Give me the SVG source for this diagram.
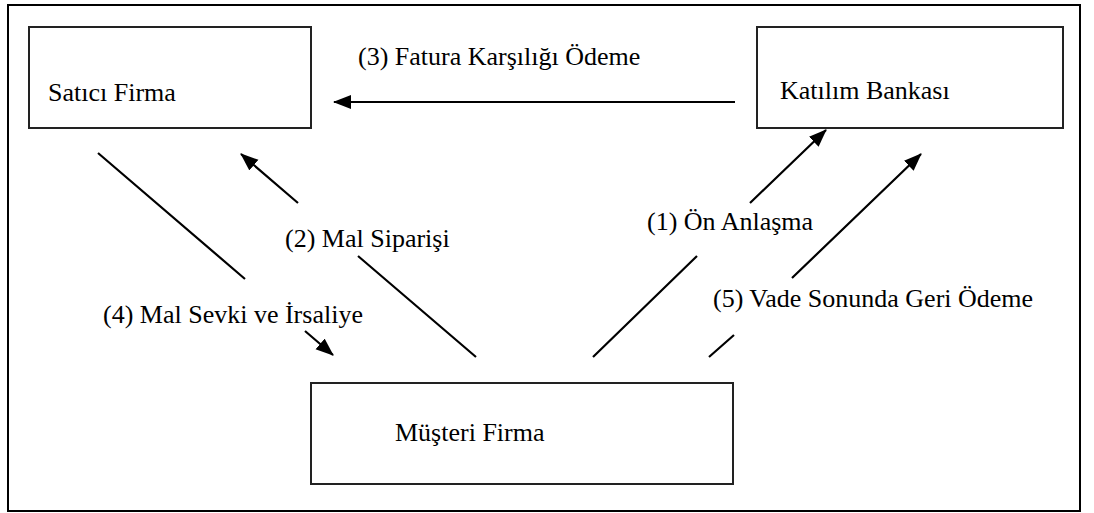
<svg xmlns="http://www.w3.org/2000/svg" width="1094" height="513" viewBox="0 0 1094 513">
<style>
.box{fill:#fff;stroke:#222;stroke-width:2}
.t{font-family:"Liberation Serif","Times New Roman",serif;font-size:26px;fill:#000}
.c{fill:none;stroke:#000;stroke-width:2.2}
</style>
<defs>
<marker id="ah" markerUnits="userSpaceOnUse" markerWidth="20" markerHeight="16" refX="17" refY="7" orient="auto">
<path d="M0,0 L18,7 L0,14 z" fill="#000"/>
</marker>
</defs>
<rect x="0" y="0" width="1094" height="513" fill="#fff"/>
<rect x="8" y="5" width="1072" height="506" fill="none" stroke="#000" stroke-width="2"/>
<g id="satici">
<rect class="box" x="29" y="27" width="282" height="101"/>
<text class="t" x="48" y="101">Satıcı Firma</text>
</g>
<g id="katilim">
<rect class="box" x="757" y="27" width="306" height="101"/>
<text class="t" x="780" y="99">Katılım Bankası</text>
</g>
<g id="musteri">
<rect class="box" x="311" y="383" width="422" height="101"/>
<text class="t" x="395" y="441">Müşteri Firma</text>
</g>
<g id="connectors">
<path class="c" d="M735,102 L334,102" marker-end="url(#ah)"/>
<path class="c" d="M476,357 L358,256 M298,203 L241,154" marker-end="url(#ah)"/>
<path class="c" d="M98,153 L245,279 M305,331 L333,355" marker-end="url(#ah)"/>
<path class="c" d="M593,357 L697,256 M750,203 L826,130" marker-end="url(#ah)"/>
<path class="c" d="M709,357 L734,335 M792,278 L921,154" marker-end="url(#ah)"/>
</g>
<g id="labels">
<text class="t" x="358" y="65">(3) Fatura Karşılığı Ödeme</text>
<text class="t" x="285" y="247">(2) Mal Siparişi</text>
<text class="t" x="103" y="323">(4) Mal Sevki ve İrsaliye</text>
<text class="t" x="647" y="230">(1) Ön Anlaşma</text>
<text class="t" x="713" y="307">(5) Vade Sonunda Geri Ödeme</text>
</g>
</svg>
